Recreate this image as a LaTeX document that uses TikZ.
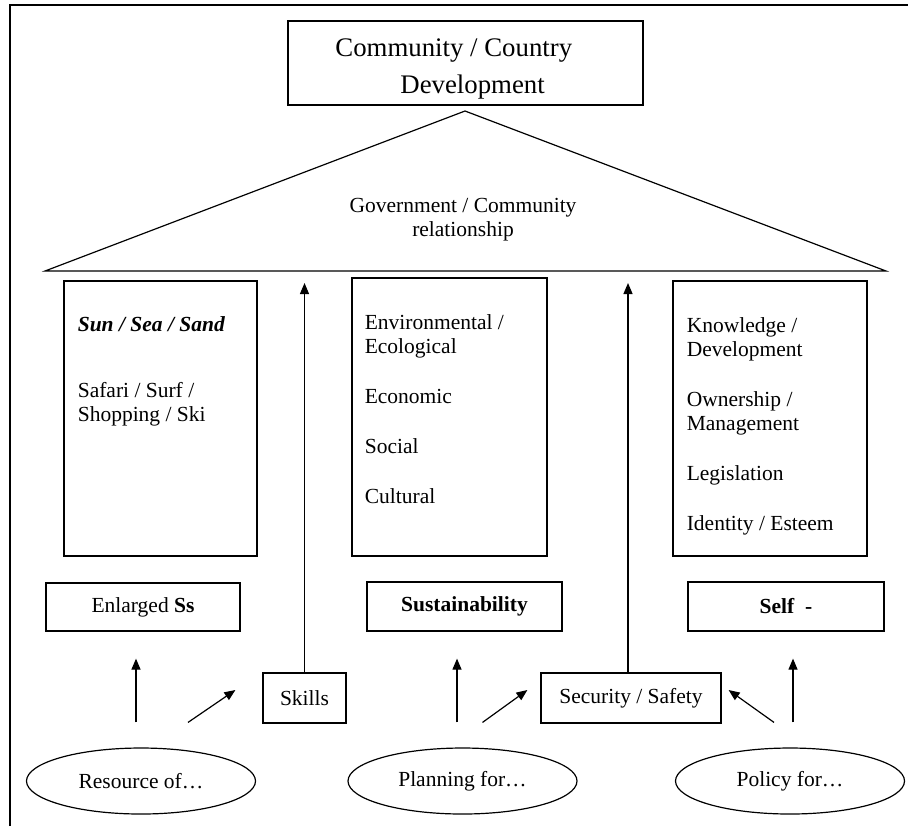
\documentclass[tikz,border=0pt]{standalone}
\usepackage{fontspec}
\setmainfont{Liberation Serif}
\usetikzlibrary{arrows.meta,shapes.geometric}

\begin{document}
\begin{tikzpicture}[x=0.5pt,y=-0.5pt,
font=\fontsize{10.75}{12}\selectfont,
box/.style={draw,rectangle,line width=0.6pt,inner sep=0pt},
oval/.style={draw,ellipse,line width=0.6pt,inner sep=0pt,
  minimum width=114.5pt,minimum height=33pt},
txt/.style={inner sep=0pt,align=left,anchor=north west},
tip/.style={line width=0.6pt,-{Triangle[length=5.5pt,width=4.5pt]}}]
\useasboundingbox (0,0) rectangle (908,826);
\draw[line width=0.6pt] (10,826) -- (10,5) -- (908,5);

% top of the house
\node (devel) [box,minimum width=177.5pt,minimum height=42pt] at (465.5,63) {};
\node (develtext) [txt,font=\fontsize{13.4}{18.5}\selectfont] at (335,38)
      {Community / Country\\\hspace*{32.5pt}Development};

\coordinate (apex) at (465,111);
\coordinate (roofL) at (45,271);
\coordinate (roofR) at (886,271);
\draw[line width=0.6pt] (roofL) -- (apex) -- (roofR) -- cycle;
\node (govt) [align=center] at (463,219.5) {Government / Community\\relationship};

% pillars
\node (sun) [box,minimum width=96.5pt,minimum height=137.5pt] at (160.5,418.5) {};
\node (suntext) [txt] at ([shift={(14,36)}]sun.north west)
      {\textbf{\textit{Sun / Sea / Sand}}\\[21pt]Safari / Surf /\\Shopping / Ski};

\node (pillars) [box,minimum width=97.5pt,minimum height=139pt] at (449.5,417) {};
\node (pillarstext) [txt] at ([shift={(13,37)}]pillars.north west)
      {Environmental /\\Ecological\\[13pt]Economic\\[13pt]Social\\[13pt]Cultural};

\node (selfbox) [box,minimum width=97pt,minimum height=137.5pt] at (770,418.5) {};
\node (selftext) [txt] at ([shift={(14,37)}]selfbox.north west)
      {Knowledge /\\Development\\[13pt]Ownership /\\Management\\[13pt]Legislation\\[13pt]Identity / Esteem};

\node (enlarged) [box,minimum width=97pt,minimum height=24pt] at (143,607) {Enlarged \textbf{Ss}};
\node (sustain) [box,minimum width=97.5pt,minimum height=24.5pt] at (464.5,606.5) {\textbf{Sustainability}};
\node (self) [box,minimum width=98pt,minimum height=24.5pt] at (786,606.5) {\textbf{Self\ \ -}};

\node (skills) [box,minimum width=41.5pt,minimum height=25pt] at (304.5,698) {Skills};
\node (security) [box,minimum width=90pt,minimum height=25pt] at (631,698) {Security / Safety};

% foundations
\node (resource) [oval] at (141,781) {Resource of…};
\node (planning) [oval] at (462.5,781) {Planning for…};
\node (policy) [oval] at (790,781) {Policy for…};

\draw[tip] ([shift={(-5,-25)}]resource.north) -- ([shift={(-7,27)}]enlarged.south);
\draw[tip] ([shift={(-5.5,-25)}]planning.north) -- ([shift={(-7.5,27)}]sustain.south);
\draw[tip] ([shift={(3,-25)}]policy.north) -- ([shift={(7,27)}]self.south);

\draw[tip] ([shift={(47,-25)}]resource.north) -- ([shift={(-27,-8)}]skills.west);
\draw[tip] ([shift={(20,-25)}]planning.north) -- ([shift={(-13,-8)}]security.west);
\draw[tip] ([shift={(-16,-25)}]policy.north) -- ([shift={(7,-8)}]security.east);

\draw[tip,shorten >=6pt] (skills.north) -- (skills.north |- roofL);
\draw[tip,shorten >=6pt] ([xshift=-1.5pt]security.north) -- ([xshift=-1.5pt]security.north |- roofL);
\end{tikzpicture}
\end{document}
